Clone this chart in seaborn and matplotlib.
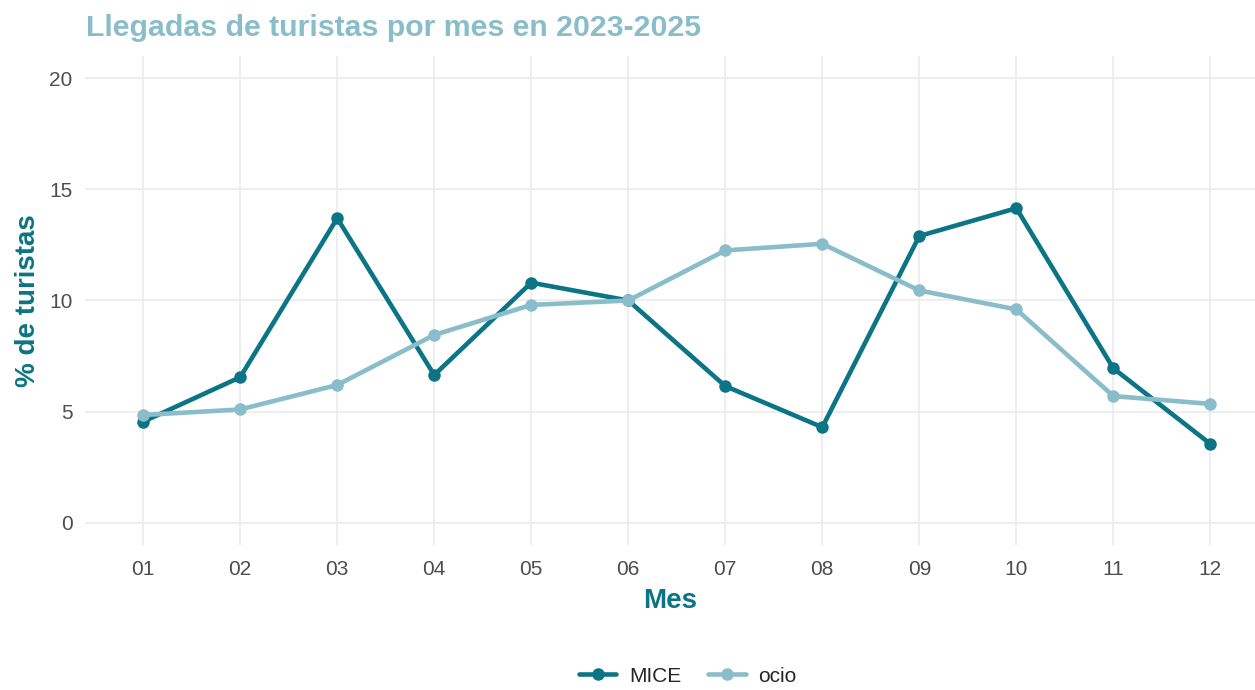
import matplotlib
matplotlib.use("Agg")
import matplotlib.pyplot as plt
import seaborn as sns
import pandas as pd
from matplotlib.lines import Line2D

months = ["01", "02", "03", "04", "05", "06", "07", "08", "09", "10", "11", "12"]
mice = [4.55, 6.55, 13.7, 6.65, 10.8, 10.0, 6.15, 4.3, 12.9, 14.15, 6.95, 3.55]
ocio = [4.85, 5.1, 6.2, 8.45, 9.8, 10.0, 12.25, 12.55, 10.45, 9.6, 5.7, 5.35]
series_names = ["MICE", "ocio"]
yticks = [0, 5, 10, 15, 20]

colors = {"MICE": "#0b7485", "ocio": "#88bdc9"}

df = pd.DataFrame({
    "Mes": months * 2,
    "pct": mice + ocio,
    "tipo": [series_names[0]] * len(months) + [series_names[1]] * len(months),
})
df["x"] = df["Mes"].map({m: i for i, m in enumerate(months)})

sns.set_theme(style="whitegrid")
plt.rcParams["font.family"] = ["Liberation Sans", "DejaVu Sans"]

fig = plt.figure(figsize=(12.55, 6.9), dpi=100)
ax = fig.add_axes([0.0677, 0.21, 0.9323, 0.709])

sns.lineplot(data=df, x="x", y="pct", hue="tipo", palette=colors, marker="o",
             markersize=9, markeredgewidth=0, linewidth=3.3, ax=ax, legend=False,
             hue_order=series_names)

ax.set_xlim(-0.6, 11.46)
ax.set_ylim(-1, 21)
ax.set_xticks(range(len(months)))
ax.set_xticklabels(months)
ax.set_yticks(yticks)
ax.set_yticklabels([str(v) for v in yticks])
ax.tick_params(axis="both", labelsize=15, colors="#4d4d4d", length=0)
ax.tick_params(axis="x", pad=11)
ax.tick_params(axis="y", pad=9)
ax.grid(True, color="#ebebeb", linewidth=1.2)
for s in ax.spines.values():
    s.set_visible(False)
ax.set_facecolor("white")

ax.set_xlabel("Mes", fontsize=20, fontweight="bold", color="#0b7485", labelpad=6)
ax.set_ylabel("% de turistas", fontsize=20, fontweight="bold", color="#0b7485", labelpad=6)

fig.text(0.0685, 0.96, "Llegadas de turistas por mes en 2023-2025", fontsize=21.8,
         fontweight="bold", color="#88bdc9", ha="left", va="center")

handles = [Line2D([0], [0], color=colors[n], lw=3.3, marker="o", markersize=9,
                  markeredgewidth=0) for n in series_names]
fig.legend(handles, series_names, loc="lower center", bbox_to_anchor=(0.548, -0.021),
           ncol=2, frameon=False, fontsize=15, handlelength=1.8, columnspacing=1.3,
           handletextpad=0.6)

fig.savefig("out.png", dpi=100, facecolor="white")
